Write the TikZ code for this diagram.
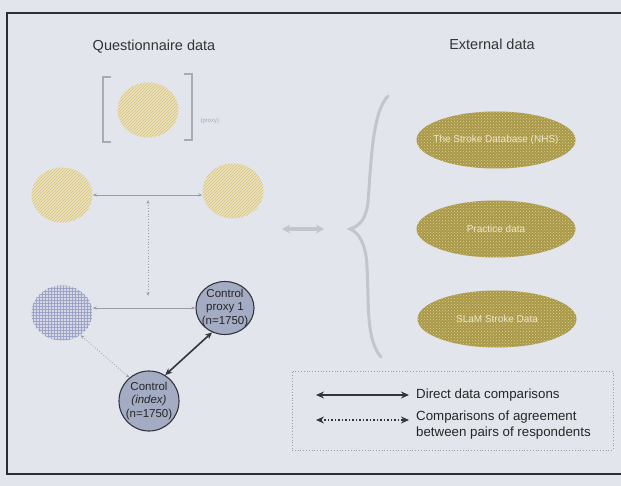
\documentclass[tikz,border=0pt]{standalone}
\usepackage{fontspec}
\setmainfont{Liberation Sans}
\usetikzlibrary{shapes.geometric,arrows.meta,patterns}
\definecolor{pagebg}{HTML}{E3E5ED}
\definecolor{framecol}{HTML}{2E2E32}
\definecolor{hatchbase}{HTML}{E9E2C6}
\definecolor{hatchline}{HTML}{D9C26E}
\definecolor{gridbase}{HTML}{D6D8E6}
\definecolor{gridline}{HTML}{9EA4C6}
\definecolor{goldbase}{HTML}{A99848}
\definecolor{golddot}{HTML}{DDD294}
\definecolor{goldtextcol}{HTML}{EEE8CE}
\definecolor{ctrlfill}{HTML}{A4ACC4}
\definecolor{ctrlline}{HTML}{34343E}
\definecolor{thinarrow}{HTML}{9A9CAA}
\definecolor{bracecol}{HTML}{C3C4CC}
\definecolor{bracketcol}{HTML}{A8AAB4}
\tikzset{
  heading/.style={font=\fontsize{14.5}{16}\selectfont, text=black!80},
  yellowdisc/.style={ellipse, minimum width=61pt, minimum height=55pt, inner sep=0pt,
    preaction={fill=hatchbase}, pattern=north east lines, pattern color=hatchline},
  griddisc/.style={ellipse, minimum width=61pt, minimum height=55pt, inner sep=0pt,
    preaction={fill=gridbase}, pattern=grid, pattern color=gridline},
  ctrldisc/.style={ellipse, draw=ctrlline, line width=1.1pt, fill=ctrlfill, inner sep=0pt},
  ctrltext/.style={align=center, inner sep=0pt, font=\fontsize{11.5}{13.5}\selectfont, text=black!85},
  golddisc/.style={ellipse, minimum width=159pt, minimum height=57pt, inner sep=0pt,
    preaction={fill=goldbase}, pattern=crosshatch dots, pattern color=golddot},
  goldtext/.style={font=\fontsize{10}{12}\selectfont, text=goldtextcol},
  thinlink/.style={draw=thinarrow, line width=0.6pt, {Stealth[length=4pt,width=3pt]}-{Stealth[length=4pt,width=3pt]}},
  dotlink/.style={draw=thinarrow, line width=0.8pt, dotted, {Stealth[length=4pt,width=3pt]}-{Stealth[length=4pt,width=3pt]}},
  boldlink/.style={draw=ctrlline, line width=1.6pt, {Stealth[length=7pt,width=6pt]}-{Stealth[length=7pt,width=6pt]}},
  legendtext/.style={anchor=west, inner sep=0pt, font=\fontsize{13.3}{16}\selectfont, text=black!85, align=left},
}
\begin{document}
\begin{tikzpicture}[x=1pt,y=-1pt]
  % page and frame
  \fill[pagebg] (0,0) rectangle (621,486);
  \useasboundingbox (0,0) rectangle (621,486);
  \draw[framecol, line width=2.4pt] (630,13) -- (7,13) -- (7,474) -- (630,474);

  % headings
  \node[heading] (qhead) at (154,47) {Questionnaire data};
  \node[heading] (ehead) at (492,44) {External data};

  % questionnaire discs
  \node[yellowdisc] (top) at (148,110) {};
  \node[yellowdisc] (midleft) at (62,195) {};
  \node[yellowdisc] (midright) at (233,191) {};
  \node[griddisc] (lowleft) at (62,313) {};

  % brackets around the top disc
  \draw[bracketcol, line width=1.6pt] (111,77) -- (103,77) -- (103,142) -- (111,142);
  \draw[bracketcol, line width=1.6pt] (184,74) -- (192,74) -- (192,140) -- (184,140);
  \node[font=\fontsize{6}{7}\selectfont, text=bracketcol, anchor=west] (proxylab) at (197,121) {(proxy)};

  % control respondents
  \node[ctrldisc, minimum width=58pt, minimum height=53pt] (proxy1) at (225,308) {};
  \node[ctrltext] (proxy1text) at (proxy1) {Control\\proxy 1\\(n=1750)};
  \node[ctrldisc, minimum width=60pt, minimum height=60pt] (index) at (149,401) {};
  \node[ctrltext] (indextext) at (index) {Control\\\textit{(index)}\\(n=1750)};

  % connectors between respondents
  \draw[thinlink] (midleft.east) -- (midright.west |- midleft.east);
  \coordinate (vtop) at (148,200);
  \coordinate (vbot) at (148,296);
  \draw[dotlink] (vtop) -- (vbot);
  \draw[thinlink] (lowleft.east |- 0,308) -- (proxy1.west |- 0,308);
  \draw[dotlink] (lowleft.-50) -- (index.130);
  \draw[boldlink] (index.58) -- (proxy1.-118);

  % external data sources
  \node[golddisc] (ext1) at (496,140) {};
  \node[goldtext] (ext1text) at (ext1) {The Stroke Database (NHS)};
  \node[golddisc] (ext2) at (496,229) {};
  \node[goldtext] (ext2text) at (ext2) {Practice data};
  \node[golddisc] (ext3) at (497,319) {};
  \node[goldtext] (ext3text) at (ext3) {SLaM Stroke Data};

  % brace grouping the external sources
  \draw[bracecol, line width=3pt, line cap=round]
    (388,96) .. controls (372,112) and (371,165) .. (368,202)
    .. controls (366,220) and (359,226) .. (350,229)
    .. controls (360,233) and (366,246) .. (367,266)
    .. controls (369,305) and (366,340) .. (381,357);
  \coordinate (linkL) at (282,229);
  \coordinate (linkR) at (324,229);
  \draw[bracecol, line width=3.2pt, {Stealth[length=8pt,width=9pt]}-{Stealth[length=8pt,width=9pt]}] (linkL) -- (linkR);

  % legend
  \node[draw=thinarrow, dotted, line width=0.8pt, minimum width=321pt, minimum height=79pt, inner sep=0pt] (legend) at (452.5,410.5) {};
  \coordinate (l1a) at (316,395);
  \coordinate (l1b) at (409,395);
  \coordinate (l2a) at (316,420);
  \coordinate (l2b) at (409,420);
  \draw[ctrlline, line width=1.8pt, {Stealth[length=8pt,width=7pt]}-{Stealth[length=8pt,width=7pt]}] (l1a) -- (l1b);
  \draw[ctrlline, line width=1.5pt, dotted, {Stealth[length=8pt,width=7pt]}-{Stealth[length=8pt,width=7pt]}] (l2a) -- (l2b);
  \node[legendtext] (leg1) at (416,395) {Direct data comparisons};
  \node[legendtext, anchor=north west] (leg2) at (416,411) {Comparisons of agreement\\between pairs of respondents};
\end{tikzpicture}
\end{document}
